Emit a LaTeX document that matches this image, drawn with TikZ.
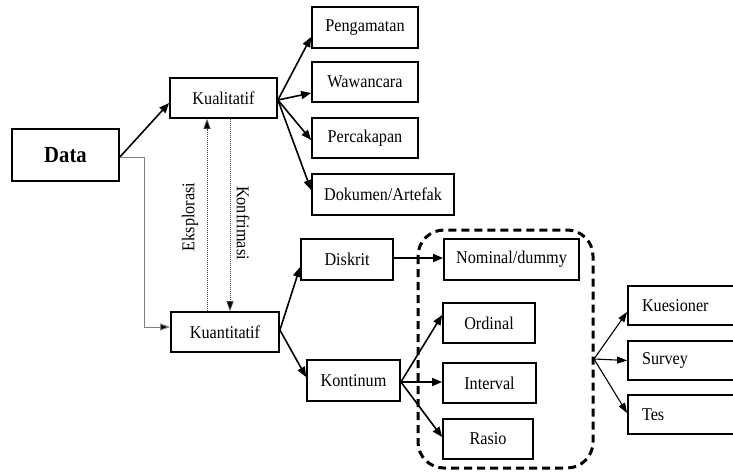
\documentclass[tikz,border=0pt]{standalone}
\usepackage{fontspec}
\setmainfont[FakeStretch=0.9]{Liberation Serif}
\usetikzlibrary{arrows.meta,calc}

\tikzset{
  box/.style={draw=black, line width=1.8pt, fill=white, inner sep=0pt,
              font=\fontsize{18}{21}\selectfont},
  leftbox/.style={box, text width=92pt, align=left},
  conn/.style={line width=1.6pt, -{Triangle[length=10pt,width=8pt]}},
  thinconn/.style={line width=1.1pt, -{Triangle[length=10pt,width=7pt]}},
  grayconn/.style={draw=gray, line width=1pt, -{Triangle[length=10pt,width=7pt,fill=black]}},
  dotconn/.style={draw=black!75, line width=0.9pt, dash pattern=on 1pt off 1pt,
                  -{Triangle[length=10pt,width=7pt,fill=black]}},
  sidelabel/.style={font=\fontsize{18}{21}\selectfont, inner sep=0pt},
  group/.style={draw=black, line width=3pt, dash pattern=on 8pt off 5pt,
                rounded corners=26pt}
}

\begin{document}
\begin{tikzpicture}[x=1pt, y=-1pt]
\useasboundingbox (0,0) rectangle (733,474);
\clip (0,0) rectangle (733,474);
\fill[white] (0,0) rectangle (733,474);

% grouping of the measurement scales
\draw[group] (418,230) rectangle (593,468);

% main boxes
\node[box, minimum width=107pt, minimum height=52pt, font=\fontsize{23}{27}\selectfont\bfseries] (data) at (65.5,155) {Data};
\node[box, minimum width=107pt, minimum height=40pt] (kual) at (223.5,98) {Kualitatif};
\node[box, minimum width=108pt, minimum height=40pt] (kuan) at (225,332) {Kuantitatif};

% qualitative methods
\node[box, minimum width=106pt, minimum height=41pt] (peng) at (365,27.5) {Pengamatan};
\node[box, minimum width=106pt, minimum height=40pt] (waw) at (365,82) {Wawancara};
\node[box, minimum width=106pt, minimum height=40pt] (perc) at (365,138) {Percakapan};
\node[box, minimum width=142pt, minimum height=41pt] (dok) at (383,194.5) {Dokumen/Artefak};

% quantitative types
\node[box, minimum width=92pt, minimum height=41pt] (disk) at (347,259.5) {Diskrit};
\node[box, minimum width=93pt, minimum height=41pt] (kont) at (353.5,380.5) {Kontinum};

% scales
\node[box, minimum width=135pt, minimum height=41pt] (nom) at (511.5,259.5) {Nominal/dummy};
\node[box, minimum width=92pt, minimum height=40pt] (ord) at (489,323) {Ordinal};
\node[box, minimum width=93pt, minimum height=40pt] (int) at (489.5,383) {Interval};
\node[box, minimum width=90pt, minimum height=40pt] (ras) at (488,439) {Rasio};

% instruments
\node[leftbox, minimum width=120pt, minimum height=39pt] (kues) at (688,305.5) {Kuesioner};
\node[leftbox, minimum width=120pt, minimum height=39pt] (surv) at (688,360.5) {Survey};
\node[leftbox, minimum width=120pt, minimum height=39pt] (tes) at (688,414.5) {Tes};

\coordinate (hub) at (594,359);

% Data branches
\draw[conn] ($(data.east)+(0,2)$) -- ($(kual.west)+(0,5)$);
\coordinate (bend) at (144,157);
\draw[grayconn] ($(data.east)+(0,2)$) -- (bend) |- ($(kuan.west)+(0,-5)$);

% exploration / confirmation
\draw[dotconn] ($(kuan.north)+(-18,0)$) -- ($(kual.south)+(-16.5,0)$);
\draw[dotconn] ($(kual.south)+(6.5,0)$) -- ($(kuan.north)+(5,0)$);
\node[sidelabel, rotate=90] (eks) at (190,217) {Eksplorasi};
\node[sidelabel, rotate=-90] (konf) at (243,223) {Konfrimasi};

% qualitative methods
\draw[conn] ($(kual.east)+(0,2)$) -- ($(peng.west)+(0,9.5)$);
\draw[conn] ($(kual.east)+(0,2)$) -- ($(waw.west)+(0,11)$);
\draw[conn] ($(kual.east)+(0,2)$) -- ($(perc.west)+(0,2)$);
\draw[conn] ($(kual.east)+(0,2)$) -- ($(dok.west)+(0,-4.5)$);

% quantitative types
\draw[conn] ($(kuan.east)+(0,-2)$) -- ($(disk.west)+(0,7.5)$);
\draw[conn] ($(kuan.east)+(0,-2)$) -- ($(kont.west)+(0,-3.5)$);

% scales
\draw[conn] ($(disk.east)+(0,-1.5)$) -- ($(nom.west)+(0,-1.5)$);
\draw[conn] ($(kont.east)+(0,1.5)$) -- ($(ord.west)+(0,-8)$);
\draw[conn] ($(kont.east)+(0,1.5)$) -- ($(int.west)+(0,-1)$);
\draw[conn] ($(kont.east)+(0,1.5)$) -- ($(ras.west)+(0,-2)$);

% instruments
\draw[thinconn] (hub) -- ($(kues.west)+(0,6.5)$);
\draw[thinconn] (hub) -- ($(surv.west)+(0,0)$);
\draw[thinconn] (hub) -- ($(tes.west)+(0,-1.5)$);
\end{tikzpicture}
\end{document}
